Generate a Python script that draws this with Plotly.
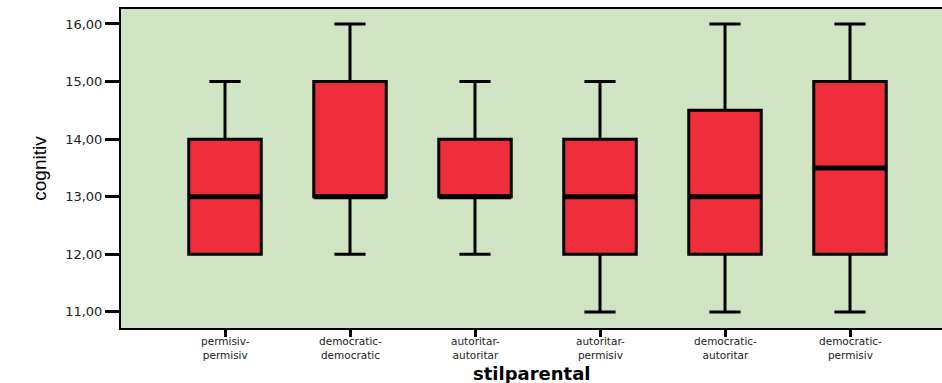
import plotly.graph_objects as go

# Parenting style groups and the cognitive score distribution in each
categories = ["permisiv-permisiv", "democratic-democratic", "autoritar-autoritar",
              "autoritar-permisiv", "democratic-autoritar", "democratic-permisiv"]
lower_whisker = [12, 12, 12, 11, 11, 11]
q1 = [12, 13, 13, 12, 12, 12]
median = [13, 13, 13, 13, 13, 13.5]
q3 = [14, 15, 14, 14, 14.5, 15]
upper_whisker = [15, 16, 15, 15, 16, 16]
y_ticks = [11, 12, 13, 14, 15, 16]
y_tick_text = ["11,00", "12,00", "13,00", "14,00", "15,00", "16,00"]

positions = list(range(len(categories)))
box_width = 0.58

fig = go.Figure()
fig.add_trace(go.Box(
    x=positions, q1=q1, median=median, q3=q3,
    lowerfence=lower_whisker, upperfence=upper_whisker,
    width=box_width, whiskerwidth=0.43,
    fillcolor="rgb(238,47,59)",
    line=dict(color="black", width=3),
    boxpoints=False, hoverinfo="skip", showlegend=False,
))

# Heavier median bars on top of each box
for x, m in zip(positions, median):
    fig.add_trace(go.Scatter(
        x=[x - box_width / 2, x + box_width / 2], y=[m, m],
        mode="lines", line=dict(color="black", width=5),
        hoverinfo="skip", showlegend=False,
    ))

# Category labels broken after the hyphen onto two lines
label_font = dict(family="DejaVu Sans", size=10.5, color="#222")
for x, name in zip(positions, categories):
    first, second = name.split("-")
    fig.add_annotation(
        x=x, xref="x", y=0, yref="paper", yanchor="top",
        yshift=-6, text=first + "-<br>" + second, showarrow=False,
        font=label_font, borderpad=0,
    )

# Horizontal axis title, placed below the category labels
fig.add_annotation(
    x=0.5, xref="paper", y=0, yref="paper", yanchor="top", yshift=-34,
    text="<b>stilparental</b>", showarrow=False, borderpad=0,
    font=dict(family="DejaVu Sans", size=18, color="black"),
)

fig.update_layout(
    width=942, height=383,
    margin=dict(l=121, r=0, t=9, b=55),
    paper_bgcolor="white",
    plot_bgcolor="rgb(208,228,196)",
    showlegend=False,
    xaxis=dict(
        range=[-0.832, 5.736],
        tickmode="array", tickvals=positions, showticklabels=False,
        ticks="outside", ticklen=7, tickwidth=3, tickcolor="black",
        showline=True, linecolor="black", linewidth=2, mirror=True,
        showgrid=False, zeroline=False,
    ),
    yaxis=dict(
        range=[10.72, 16.26],
        tickmode="array", tickvals=y_ticks, ticktext=y_tick_text,
        ticks="outside", ticklen=14, tickwidth=3, tickcolor="black",
        showline=True, linecolor="black", linewidth=2,
        showgrid=False, zeroline=False,
        tickfont=dict(family="DejaVu Sans", size=13, color="#222"),
        title=dict(text="cognitiv", standoff=14,
                   font=dict(family="Liberation Sans Narrow, Liberation Sans", size=19, color="black")),
    ),
)

fig.write_html("out.html")
